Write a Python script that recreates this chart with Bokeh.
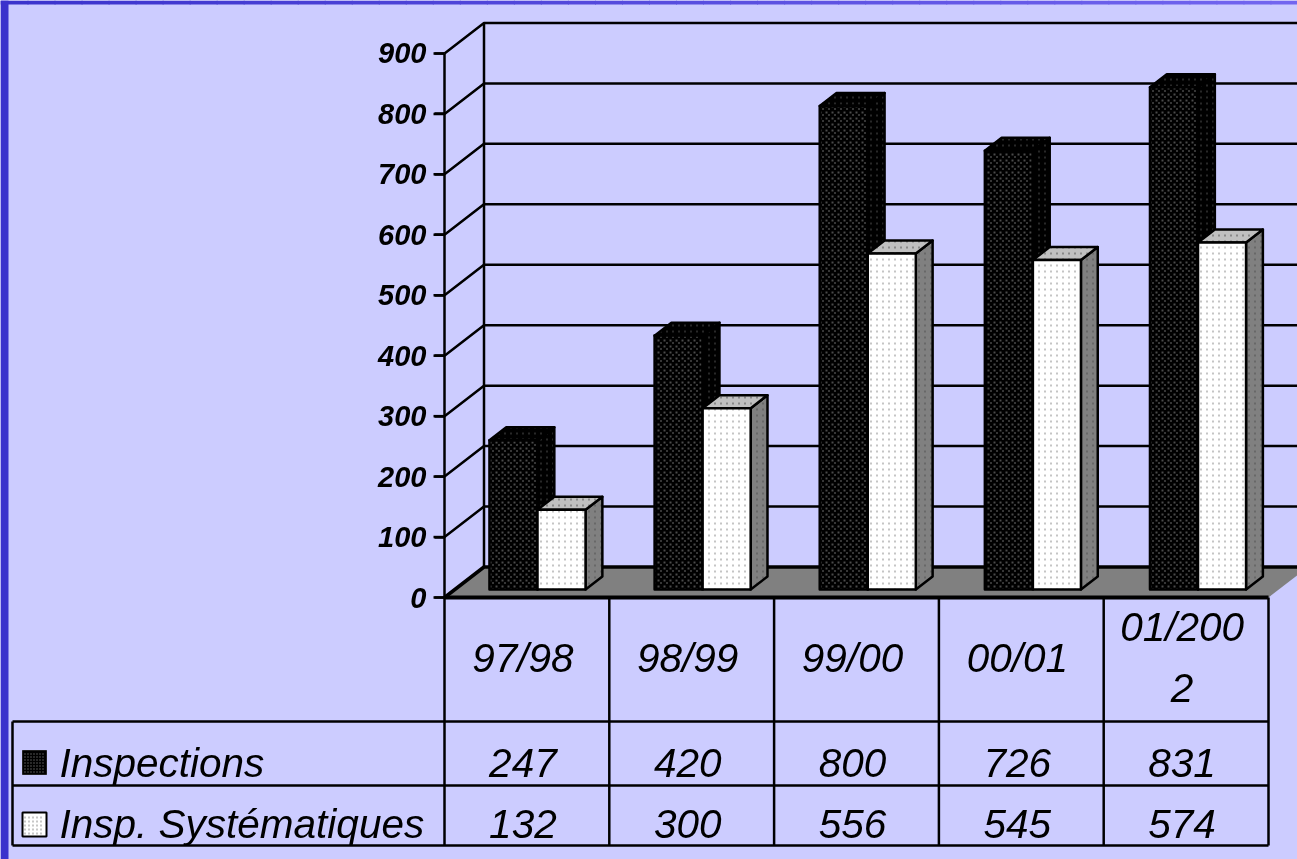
from bokeh.plotting import figure
from bokeh.models import Range1d, LinearAxis, FixedTicker
from bokeh.core.properties import value
from bokeh.embed import file_html
from bokeh.resources import INLINE

categories = ["97/98", "98/99", "99/00", "00/01", "01/200\n2"]
inspections = [247, 420, 800, 726, 831]
systematiques = [132, 300, 556, 545, 574]
series_names = ["Inspections", "Insp. Systématiques"]
y_ticks = [0, 100, 200, 300, 400, 500, 600, 700, 800, 900]

W, H = 1297, 859
BG = "#CCCCFF"
FONT = "Liberation Sans"
X0, CAT = 444.0, 164.8        # left of the front plane, width of a category
Y0, SCALE = 597.0, 0.6045     # pixel row of value 0, pixels per unit
DX, DY = 39.5, 30.5           # depth of the chart box
BAR_L, BAR_W = 0.21, 0.2915   # bar position inside a category
BAR_PITCH = 1.002
D1, D2 = 0.262, 0.688         # front and back depth of the bars
PX = dict(x_range_name="px", y_range_name="px")

p = figure(width=W, height=H, output_backend="svg", toolbar_location=None,
           x_axis_location=None, y_axis_location=None,
           x_range=Range1d(-X0 / CAT, (W - X0) / CAT),
           y_range=Range1d(-(H - Y0) / SCALE, Y0 / SCALE),
           min_border=0, min_border_left=0, min_border_right=0,
           min_border_top=0, min_border_bottom=0,
           background_fill_color=BG, border_fill_color=BG, outline_line_color=None)
p.grid.visible = False
p.styles = {"position": "fixed", "left": "0px", "top": "0px"}
p.extra_x_ranges["px"] = Range1d(0, W)
p.extra_y_ranges["px"] = Range1d(H, 0)


def proj(cx, v, d):
    return cx + d * DX / CAT, v + d * DY / SCALE


def lerp(t):
    a, b = (0x3B, 0x33, 0xCC), (0x73, 0x66, 0xF0)
    return "#%02x%02x%02x" % tuple(round(a[i] + (b[i] - a[i]) * t) for i in range(3))


def inside(px, py, poly):
    hit = False
    k = len(poly)
    for a in range(k):
        x1, y1 = poly[a]
        x2, y2 = poly[(a + 1) % k]
        if (y1 > py) != (y2 > py) and px < x1 + (py - y1) * (x2 - x1) / (y2 - y1):
            hit = not hit
    return hit


def dots(poly, pitch, ox, oy, w, h, color):
    """Dot screen of the print-like fills, on a grid fixed to the page."""
    xs = [q[0] for q in poly]
    ys = [q[1] for q in poly]
    left, top = [], []
    px = int(min(xs)) - pitch + ox - int(min(xs)) % pitch
    while px < max(xs):
        py = int(min(ys)) - pitch + oy - int(min(ys)) % pitch
        while py < max(ys):
            if inside(px + w / 2, py + h / 2, poly):
                left.append(px)
                top.append(py)
            py += pitch
        px += pitch
    if left:
        p.quad(left=left, right=[a + w for a in left], top=top, bottom=[a + h for a in top],
               fill_color=color, line_color=None, **PX)


# window frame stripes
n = 48
p.quad(left=[W * i / n for i in range(n)], right=[W * (i + 1) / n + 1 for i in range(n)],
       top=[0] * n, bottom=[4] * n, fill_color=[lerp(i / n) for i in range(n)], line_color=None, **PX)
p.quad(left=[0], right=[8], top=[0], bottom=[H], fill_color=lerp(0), line_color=None, **PX)

ncat = len(categories)
x_end = (W - X0) / CAT

# floor
fx = [proj(0, 0, 0)[0], proj(ncat, 0, 0)[0], proj(ncat, 0, 1)[0], proj(0, 0, 1)[0]]
fy = [proj(0, 0, 0)[1], proj(ncat, 0, 0)[1], proj(ncat, 0, 1)[1], proj(0, 0, 1)[1]]
p.patch(fx, fy, fill_color="#808080", line_color=None)

# walls: grid lines on the back and side walls
bx, by = proj(0, 0, 1)
for t in y_ticks:
    w = 3.5 if t == 0 else 2.5
    p.line([0, bx, x_end], [t, t + DY / SCALE, t + DY / SCALE], line_color="black", line_width=w)
    p.line([-11 / CAT, 0], [t, t], line_color="black", line_width=2.5)
p.line([bx, bx], [0 + DY / SCALE, 900 + DY / SCALE], line_color="black", line_width=2.5)
p.line([0, ncat], [0, 0], line_color="black", line_width=4)


def face(cx0, cx1, v, kind):
    if kind == "front":
        a = proj(cx0, 0, D1); b = proj(cx1, 0, D1); c = proj(cx1, v, D1); d = proj(cx0, v, D1)
    elif kind == "side":
        a = proj(cx1, 0, D1); b = proj(cx1, 0, D2); c = proj(cx1, v, D2); d = proj(cx1, v, D1)
    else:
        a = proj(cx0, v, D1); b = proj(cx1, v, D1); c = proj(cx1, v, D2); d = proj(cx0, v, D2)
    return [a[0], b[0], c[0], d[0]], [a[1], b[1], c[1], d[1]]


def bar(cx0, v, front, side, top, is_black):
    cx1 = cx0 + BAR_W
    for kind, fill in (("side", side), ("top", top), ("front", front)):
        xs, ys = face(cx0, cx1, v, kind)
        poly = [(X0 + CAT * a, Y0 - SCALE * b) for a, b in zip(xs, ys)]
        p.patch(xs, ys, fill_color=fill, line_color=None)
        if kind == "front" and is_black:
            dots(poly, 6, 0, 0, 1, 1, "#d8d8d8")
            dots(poly, 6, 3, 3, 2, 2, "#4a4a4a")
        elif kind == "front":
            dots(poly, 6, 0, 0, 1, 2, "#8c8c8c")
        else:
            dots(poly, 6, 0, 0, 1, 2, "#505050")
        xc = xs + xs[:1]
        yc = ys + ys[:1]
        p.line(xc, yc, line_color="black", line_width=2.5, line_join="round", line_cap="round")


for i in range(ncat):
    left = i * BAR_PITCH + BAR_L
    bar(left, inspections[i], "#000000", "#000000", "#000000", True)
    bar(left + BAR_W, systematiques[i], "#ffffff", "#808080", "#c0c0c0", False)

# y axis
ax = LinearAxis(ticker=FixedTicker(ticks=y_ticks), fixed_location=0, bounds=(0, 900),
                axis_line_color="black", axis_line_width=2.5,
                major_tick_line_color="black", major_tick_line_width=2.5,
                major_tick_out=10, major_tick_in=0, minor_tick_line_color=None,
                major_label_text_font=FONT, major_label_text_font_style="bold italic",
                major_label_text_font_size="29px", major_label_text_color="black",
                major_label_standoff=8)
p.add_layout(ax, "left")

# data table
vlines = [X0 + CAT * i for i in range(ncat + 1)]
for x in vlines:
    p.line([x, x], [597, 845], line_color="black", line_width=2.5, **PX)
for y in (721, 785, 845):
    p.line([12, vlines[-1]], [y, y], line_color="black", line_width=2.5, **PX)
p.line([12, 12], [721, 845], line_color="black", line_width=2.5, **PX)

centers = [X0 + CAT * (i + 0.5) - 4 for i in range(ncat)]
common = dict(text_font=value(FONT), text_font_style="italic", text_font_size="40.5px",
              text_color="black", text_baseline="middle", **PX)
p.text(centers, [657] * ncat, text=categories, text_align="center", text_line_height=1.326, **common)
p.text(centers, [762] * ncat, text=[str(v) for v in inspections], text_align="center", **common)
p.text(centers, [823] * ncat, text=[str(v) for v in systematiques], text_align="center", **common)
p.text([59, 59], [762, 823], text=series_names, text_align="left", **common)

# legend keys
p.quad(left=[22], right=[46], top=[750], bottom=[774], fill_color="black", line_color="#222222", **PX)
dots([(24, 752), (44, 752), (44, 772), (24, 772)], 3, 0, 0, 1, 1, "#a0a0a0")
p.quad(left=[22], right=[46], top=[812], bottom=[836], fill_color="white", line_color="black", line_width=2, **PX)
dots([(24, 814), (44, 814), (44, 834), (24, 834)], 4, 0, 0, 1, 2, "#909090")

open("out.html", "w").write(file_html(p, INLINE))
